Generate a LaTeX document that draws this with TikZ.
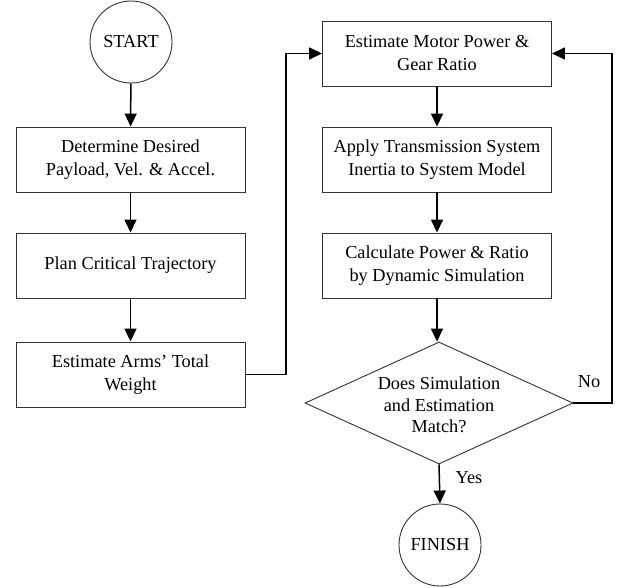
\documentclass[tikz,border=0pt]{standalone}
\usepackage{fontspec}
\setmainfont{Liberation Serif}
\usetikzlibrary{shapes.geometric,arrows.meta}
\begin{document}
\begin{tikzpicture}[x=1pt,y=-1pt,
  every node/.style={font=\fontsize{18.3}{23}\selectfont},
  procbox/.style={draw=black!80,line width=0.9pt,rectangle,minimum width=229pt,minimum height=65pt,inner sep=0pt,align=center},
  termcirc/.style={draw=black!80,line width=0.9pt,circle,minimum size=82pt,inner sep=0pt},
  decis/.style={draw=black!80,line width=0.9pt,diamond,minimum width=268pt,minimum height=122pt,inner sep=0pt},
  conn/.style={line width=1.5pt,-{Triangle[length=13pt,width=12pt]}},
  plainconn/.style={line width=1.5pt}]
\useasboundingbox (0,0) rectangle (618,587);
\node[termcirc] (start) at (131,42) {START};
\node[procbox] (b1) at (130.5,159.5) {Determine Desired\\Payload, Vel. \& Accel.};
\node[procbox] (b2) at (130.5,265.5) {Plan Critical Trajectory};
\node[procbox] (b3) at (130.5,374.5) {Estimate Arms’ Total\\Weight};
\node[procbox] (b4) at (437,53.5) {Estimate Motor Power \&\\Gear Ratio};
\node[procbox] (b5) at (437,159.5) {Apply Transmission System\\Inertia to System Model};
\node[procbox] (b6) at (437,265.5) {Calculate Power \& Ratio\\by Dynamic Simulation};
\node[decis] (d) at (439,403) {};
\node[align=center,inner sep=0pt,font=\fontsize{18.3}{21.5}\selectfont] (dt) at (439,405) {Does Simulation\\and Estimation\\Match?};
\node[termcirc] (fin) at (440,545) {FINISH};
\coordinate (j1) at (286,53.5);
\coordinate (j2) at (612,403);
\draw[conn] (start) -- (b1);
\draw[conn] (b1) -- (b2);
\draw[conn] (b2) -- (b3);
\draw[conn] (b3.east) -| (j1) -- (b4.west);
\draw[conn] (b4) -- (b5);
\draw[conn] (b5) -- (b6);
\draw[conn] (b6.south) -- (b6.south |- d.north);
\draw[conn] (d.east) -- (j2) |- (b4.east);
\draw[conn] (d.south) -- (fin.north);
\node (no) at (589,382) {No};
\node (yes) at (469,478) {Yes};
\end{tikzpicture}
\end{document}
